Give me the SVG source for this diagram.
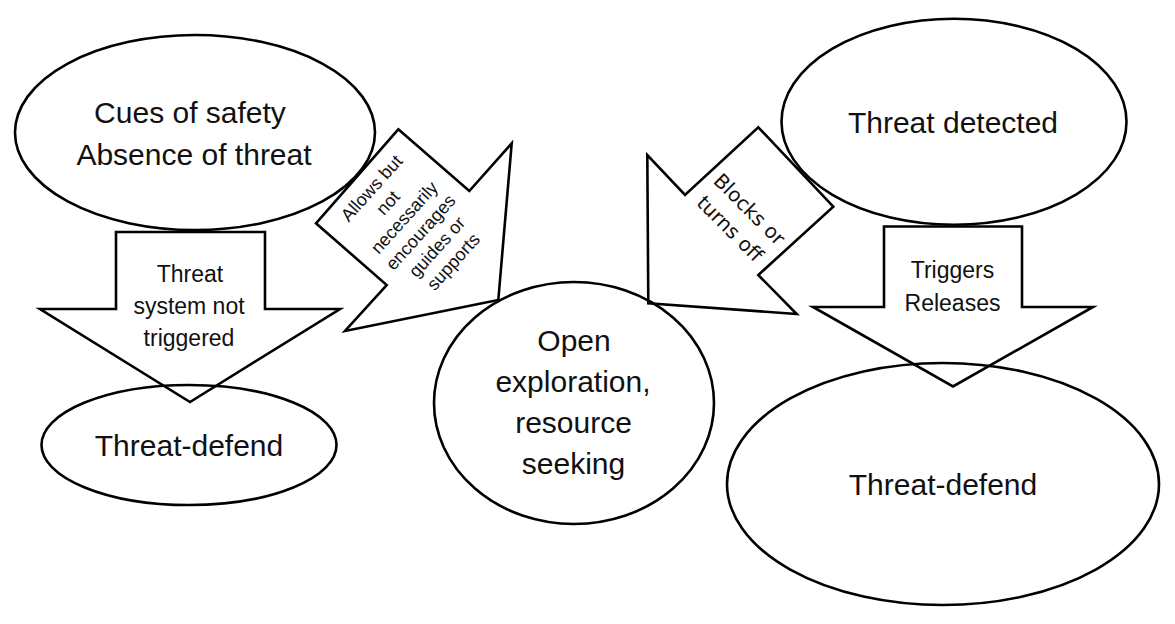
<svg xmlns="http://www.w3.org/2000/svg" width="1175" height="624" viewBox="0 0 1175 624">
<style>
.shape{fill:none;stroke:#000;stroke-width:2.6;stroke-linejoin:miter}
.big{font-family:"Liberation Sans",Arial,sans-serif;font-size:30px;fill:#111;text-anchor:middle}
.mid{font-family:"Liberation Sans",Arial,sans-serif;font-size:23px;fill:#111;text-anchor:middle}
.arial{font-family:"Liberation Sans",Arial,sans-serif;font-size:18px;fill:#111;text-anchor:middle}
.dv{font-family:"DejaVu Sans",Verdana,sans-serif;font-size:20px;fill:#111;text-anchor:middle}
</style>
<rect width="1175" height="624" fill="#fff"/>
<g id="node-safety">
<ellipse class="shape" cx="195" cy="132.5" rx="180" ry="97.5"/>
<text class="big" x="190" y="123">Cues of safety</text>
<text class="big" x="194" y="165" font-size="31">Absence of threat</text>
</g>
<g id="node-defend-left">
<ellipse class="shape" cx="189" cy="445" rx="147.5" ry="60"/>
<text class="big" x="189" y="456" font-size="30.7">Threat-defend</text>
</g>
<g id="node-explore">
<ellipse class="shape" cx="574" cy="403" rx="140" ry="121"/>
<text class="big" x="574" y="351">Open</text>
<text class="big" x="573" y="392" font-size="31">exploration,</text>
<text class="big" x="573.5" y="433">resource</text>
<text class="big" x="573.5" y="474">seeking</text>
</g>
<g id="node-threat">
<ellipse class="shape" cx="954" cy="121.7" rx="172.5" ry="103"/>
<text class="big" x="953" y="133" font-size="31">Threat detected</text>
</g>
<g id="node-defend-right">
<ellipse class="shape" cx="943" cy="484" rx="216" ry="121"/>
<text class="big" x="943" y="495" font-size="30.7">Threat-defend</text>
</g>
<g id="connectors">
<g id="arrow-not-triggered">
<polygon class="shape" points="116,232 265,232 265,309 340,309 190,402 40,309 116,309"/>
<text class="mid" x="190" y="282">Threat</text>
<text class="mid" x="189" y="314" font-size="24">system not</text>
<text class="mid" x="189" y="346">triggered</text>
</g>
<g id="arrow-triggers">
<polygon class="shape" points="884,226.5 1022,226.5 1022,307 1093,307 953,386.5 813,307 884,307"/>
<text class="mid" x="952.5" y="278">Triggers</text>
<text class="mid" x="952.5" y="311" font-size="22">Releases</text>
</g>
<g id="arrow-allows">
<polygon class="shape" points="398.3,129.3 469.3,191 511.7,143.3 498.3,300 345,331 386.7,285 316,223.3"/>
<g transform="translate(412.5,225) rotate(-48)">
<text class="arial" x="0" y="-49">Allows but</text>
<text class="arial" x="0" y="-27">not</text>
<text class="arial" x="0" y="-5">necessarily</text>
<text class="arial" x="0" y="17">encourages</text>
<text class="arial" x="0" y="39">guides or</text>
<text class="arial" x="0" y="61">supports</text>
</g>
</g>
<g id="arrow-blocks">
<polygon class="shape" points="758.3,127.3 833.3,206.7 758.3,275 796.7,314 648.3,303.3 647.3,155 685,195"/>
<g transform="translate(740,218.8) rotate(45)">
<text class="dv" x="0" y="-6.5">Blocks or</text>
<text class="dv" x="0" y="21">turns off</text>
</g>
</g>
</g>
</svg>
